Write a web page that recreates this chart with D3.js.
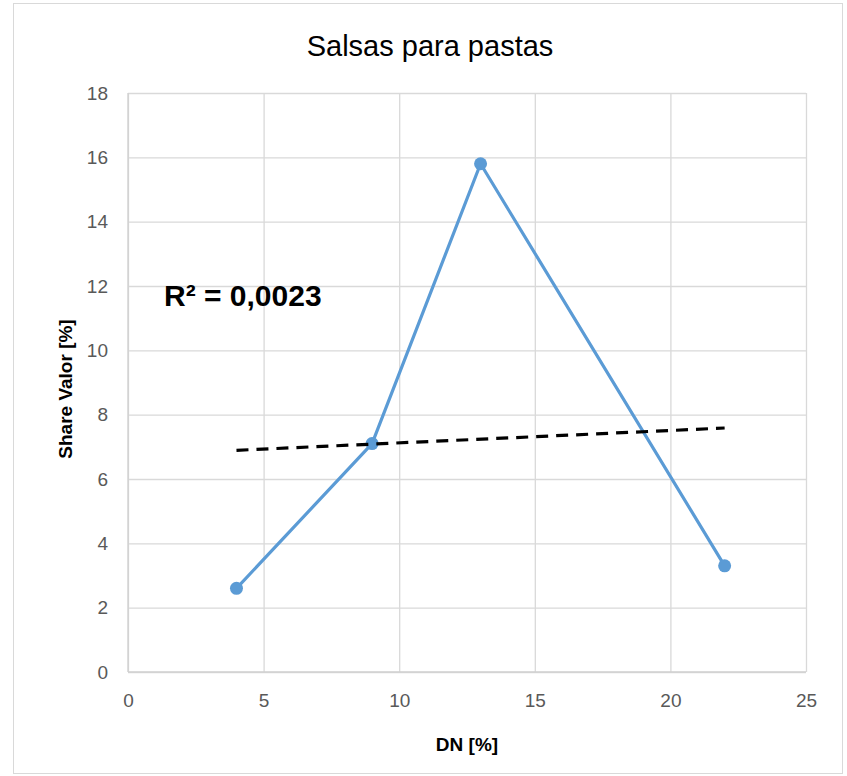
<!DOCTYPE html>
<html><head><meta charset="utf-8">
<script src="https://cdn.jsdelivr.net/npm/d3@7"></script>
<style>body{margin:0;background:#fff;}svg{display:block;font-family:"Liberation Sans",Arial,sans-serif;}</style>
</head><body>
<svg id="c" width="847" height="776"></svg>
<script>
const title = "Salsas para pastas";
const xLabel = "DN [%]";
const yLabel = "Share Valor [%]";
const xValues = [4, 9, 13, 22];
const yValues = [2.6, 7.1, 15.8, 3.3];
const xTicks = [0, 5, 10, 15, 20, 25];
const yTicks = [0, 2, 4, 6, 8, 10, 12, 14, 16, 18];
const r2Label = "R² = 0,0023";

const svg = d3.select("#c");
const m = {left:128, right:806, top:93, bottom:672};

svg.append("rect").attr("x",13.5).attr("y",3.5).attr("width",829).attr("height",770)
  .attr("fill","#fff").attr("stroke","#d9d9d9").attr("stroke-width",1);

const x = d3.scaleLinear().domain([0,25]).range([m.left,m.right]);
const y = d3.scaleLinear().domain([0,18]).range([m.bottom,m.top]);

const gx = svg.append("g").attr("transform",`translate(0,${m.bottom})`)
  .call(d3.axisBottom(x).tickValues(xTicks).tickSize(-(m.bottom-m.top)).tickFormat(d=>d).tickPadding(22));
gx.attr("font-size",19).attr("font-family","Liberation Sans, Arial");
gx.select(".domain").remove();
gx.selectAll("line").attr("stroke","#d9d9d9").attr("stroke-width",1.3);
gx.selectAll("text").attr("fill","#595959");

const gy = svg.append("g").attr("transform",`translate(${m.left},0)`)
  .call(d3.axisLeft(y).tickValues(yTicks).tickSize(-(m.right-m.left)).tickFormat(d=>d).tickPadding(20));
gy.attr("font-size",19).attr("font-family","Liberation Sans, Arial");
gy.select(".domain").remove();
gy.selectAll("line").attr("stroke","#d9d9d9").attr("stroke-width",1.3);
gy.selectAll("text").attr("fill","#595959");

svg.append("line").attr("x1",m.left).attr("x2",m.right).attr("y1",m.bottom).attr("y2",m.bottom).attr("stroke","#d0d0d0").attr("stroke-width",1.3);
svg.append("line").attr("x1",m.left).attr("x2",m.left).attr("y1",m.top).attr("y2",m.bottom).attr("stroke","#d0d0d0").attr("stroke-width",1.3);

const data = xValues.map((v,i)=>({x:v,y:yValues[i]}));

svg.append("path").datum(data)
  .attr("d", d3.line().x(d=>x(d.x)).y(d=>y(d.y)))
  .attr("fill","none").attr("stroke","#5b9bd5").attr("stroke-width",3.2).attr("stroke-linejoin","round");
svg.selectAll("circle.pt").data(data).join("circle").attr("class","pt")
  .attr("cx",d=>x(d.x)).attr("cy",d=>y(d.y)).attr("r",6.5).attr("fill","#5b9bd5");

// linear trendline (least squares)
const mx = d3.mean(xValues), my = d3.mean(yValues);
const sxy = d3.sum(data, d=>(d.x-mx)*(d.y-my));
const sxx = d3.sum(data, d=>(d.x-mx)**2);
const slope = sxy/sxx, icpt = my - slope*mx;
const xmin = d3.min(xValues), xmax = d3.max(xValues);
svg.append("line")
  .attr("x1",x(xmin)).attr("y1",y(icpt+slope*xmin))
  .attr("x2",x(xmax)).attr("y2",y(icpt+slope*xmax))
  .attr("stroke","#000").attr("stroke-width",3.2).attr("stroke-dasharray","12,8");

svg.append("text").attr("x",430).attr("y",56).attr("text-anchor","middle")
  .attr("font-size",29).attr("fill","#000").text(title);
svg.append("text").attr("x",467).attr("y",751).attr("text-anchor","middle")
  .attr("font-size",19).attr("font-weight","bold").attr("fill","#000").text(xLabel);
svg.append("text").attr("transform","translate(72,389) rotate(-90)").attr("text-anchor","middle")
  .attr("font-size",19).attr("font-weight","bold").attr("fill","#000").text(yLabel);
svg.append("text").attr("x",164).attr("y",306)
  .attr("font-size",30).attr("font-weight","bold").attr("fill","#000").text(r2Label);
</script>
</body></html>
